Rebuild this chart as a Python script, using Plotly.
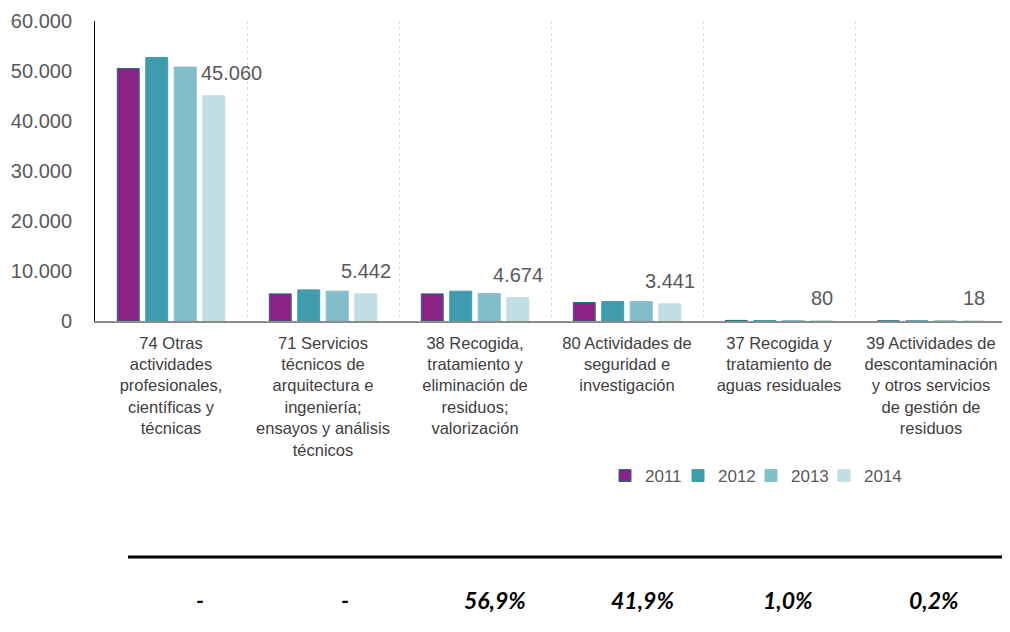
import plotly.graph_objects as go

categories = [
    "74 Otras<br>actividades<br>profesionales,<br>científicas y<br>técnicas",
    "71 Servicios<br>técnicos de<br>arquitectura e<br>ingeniería;<br>ensayos y análisis<br>técnicos",
    "38 Recogida,<br>tratamiento y<br>eliminación de<br>residuos;<br>valorización",
    "80 Actividades de<br>seguridad e<br>investigación",
    "37 Recogida y<br>tratamiento de<br>aguas residuales",
    "39 Actividades de<br>descontaminación<br>y otros servicios<br>de gestión de<br>residuos",
]
years = ["2011", "2012", "2013", "2014"]
v2011 = [50500, 5420, 5420, 3690, 120, 30]
v2012 = [52700, 6220, 5960, 3890, 100, 25]
v2013 = [50800, 5960, 5490, 3890, 95, 22]
v2014 = [45060, 5442, 4674, 3441, 80, 18]
pct_labels = ["-", "-", "56,9%", "41,9%", "1,0%", "0,2%"]
y_ticks = [0, 10000, 20000, 30000, 40000, 50000, 60000]

series = [v2011, v2012, v2013, v2014]
fills = ["#8B2387", "#3F9BAE", "#83BFCA", "#C0DFE4"]
borders = ["#1F6F80", "#3F9BAE", "#83BFCA", "#C0DFE4"]

FONT = "'Liberation Sans', Arial, sans-serif"
OFF = 8  # page body margin
W, H = 1010 - OFF, 632 - OFF
ml, mr, mt = 95 - OFF, 3, 21 - OFF
mb = H - (321 - OFF)
pw = W - ml - mr
ph = H - mt - mb


def rx(X):
    return (X - OFF - ml) / pw


def ry(Y):
    return (mt + ph - (Y - OFF)) / ph


fig = go.Figure()
for name, vals, fc, bc in zip(years, series, fills, borders):
    fig.add_trace(go.Bar(
        x=categories, y=vals, name=name,
        marker=dict(color=fc, line=dict(color=bc, width=1)),
        hoverinfo="x+y+name",
    ))
# invisible spacer entry so the last legend label is not clipped
fig.add_trace(go.Scatter(
    x=[None], y=[None], name=" ", mode="markers",
    marker=dict(color="rgba(0,0,0,0)"), hoverinfo="skip", showlegend=True,
))

annotations = []
# data labels for 2014 series
slot = (1 - 0.25) * (pw / len(categories)) / 4
for i, (c, v) in enumerate(zip(categories, v2014)):
    xs = 1.5 * slot + (18 if i == 0 else 0)
    annotations.append(dict(
        x=c, y=v, xref="x", yref="y", text=f"{v:,}".replace(",", "."),
        showarrow=False, xshift=xs, yshift=23, yanchor="middle", xanchor="center",
        font=dict(family=FONT, size=20, color="#595959"),
    ))

# table row below chart
pct_x = [200, 345, 495, 642, 788, 934]
for px, t in zip(pct_x, pct_labels):
    annotations.append(dict(
        x=rx(px), y=ry(600), xref="paper", yref="paper",
        text=f"<b><i>{t}</i></b>", showarrow=False, xanchor="center", yanchor="middle",
        font=dict(family="Lato, 'Liberation Sans', sans-serif", size=23, color="#000000"),
    ))

shapes = [dict(
    type="line", xref="paper", yref="paper",
    x0=rx(128), x1=rx(1012), y0=ry(557), y1=ry(557),
    line=dict(color="#000000", width=3),
)]

fig.update_layout(
    width=W, height=H,
    margin=dict(l=ml, r=mr, t=mt, b=mb, autoexpand=False),
    barmode="group", bargap=0.25, bargroupgap=0.23,
    plot_bgcolor="white", paper_bgcolor="white",
    separators=",.",
    font=dict(family=FONT, color="#595959"),
    annotations=annotations, shapes=shapes,
    showlegend=True,
    legend=dict(
        orientation="h", x=rx(605), y=ry(476),
        xanchor="left", yanchor="middle", entrywidth=28,
        font=dict(family=FONT, size=17, color="#595959"), bgcolor="rgba(0,0,0,0)",
        itemclick=False,
    ),
    xaxis=dict(
        type="category", tickson="boundaries", showgrid=True, automargin=False,
        gridcolor="#D9D9D9", griddash="3px,3px", gridwidth=1,
        showline=True, linecolor="#8C8C8C", linewidth=1.5,
        ticks="", tickfont=dict(family=FONT, size=16.5, color="#404040"),
        ticklabelstandoff=6,
    ),
    yaxis=dict(
        range=[0, 60000], tickvals=y_ticks, tickformat=",d", automargin=False,
        showgrid=False, zeroline=False,
        showline=True, linecolor="#000000", linewidth=1,
        ticks="", tickfont=dict(family=FONT, size=20, color="#595959"),
        ticklabelstandoff=18,
    ),
)

fig.write_html("out.html")
